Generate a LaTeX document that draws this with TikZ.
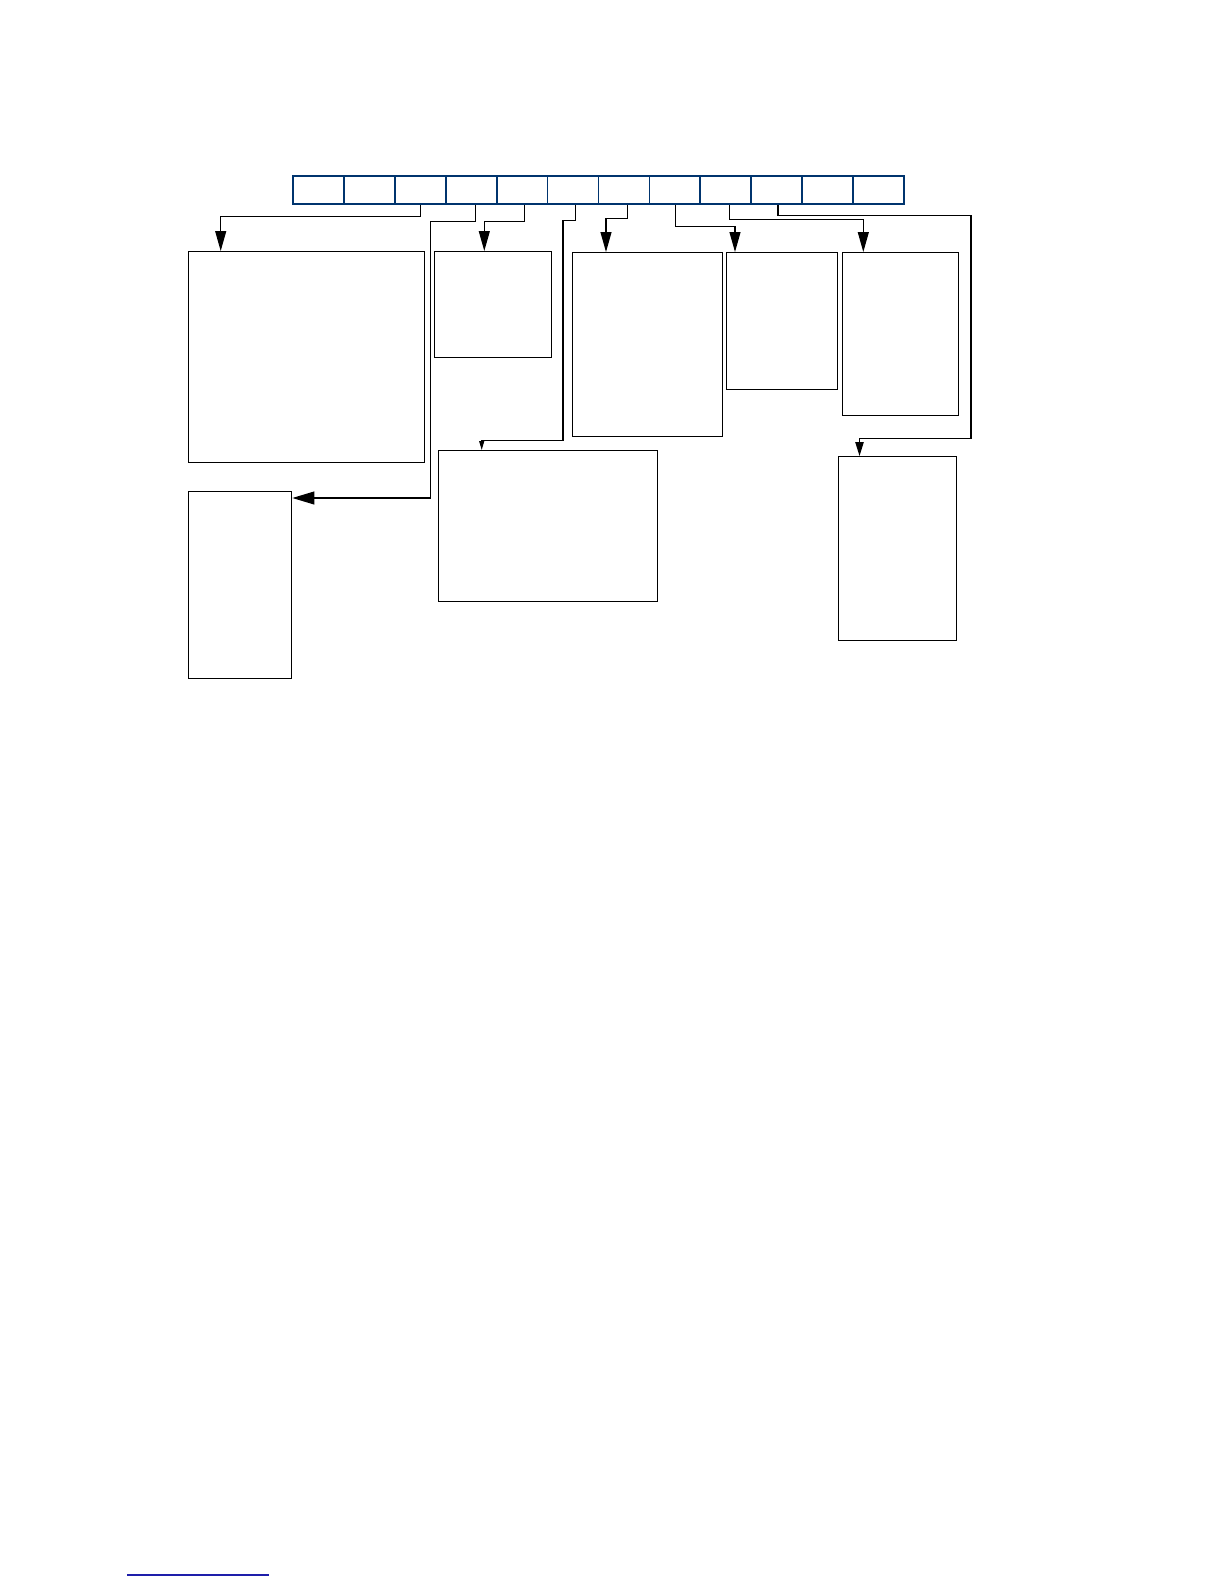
\documentclass[tikz,border=0pt]{standalone}
\usetikzlibrary{arrows.meta,calc}
\definecolor{barblue}{RGB}{0,52,110}
\definecolor{linkblue}{RGB}{30,30,170}
\begin{document}
\begin{tikzpicture}[x=0.5pt,y=-0.5pt,
  box/.style={draw=black,line width=0.7pt,inner sep=0pt,anchor=north west},
  cell/.style={draw=barblue,line width=0.9pt,inner sep=0pt,minimum width=25.46pt,minimum height=14pt},
  conn/.style={draw=black,line width=0.55pt},
  big/.style={-{Triangle[length=10pt,width=5.5pt]}},
  side/.style={-{Triangle[length=11pt,width=6.5pt]}},
  mid/.style={-{Triangle[length=7pt,width=4.2pt]}},
  tiny/.style={-{Triangle[length=4.5pt,width=2.5pt]}}]
\useasboundingbox (0,0) rectangle (1224,1584);

% register bar
\foreach \i in {1,...,12}
  \node[cell] (c\i) at ({293+50.917*(\i-0.5)},190) {};

% boxes
\node[box,minimum width=118pt,minimum height=105.5pt] (A) at (188,251) {};
\node[box,minimum width=58.5pt,minimum height=53pt]   (B) at (434,251) {};
\node[box,minimum width=75pt,minimum height=92pt]     (C) at (572,252) {};
\node[box,minimum width=55.5pt,minimum height=68.5pt] (D) at (726,252) {};
\node[box,minimum width=58pt,minimum height=81.5pt]   (E) at (842,252) {};
\node[box,minimum width=51.5pt,minimum height=93.5pt] (F) at (188,491) {};
\node[box,minimum width=109.5pt,minimum height=75.5pt] (G) at (438,450) {};
\node[box,minimum width=59pt,minimum height=92pt]     (H) at (838,456) {};

% connectors
\draw[conn,big] (c3.south) -- ++(0,12) -| ($(A.north west)+(32.7,0)$);
\draw[conn,side] ($(c4.south)+(4.5,0)$) -- ++(0,17) -| ($(F.north east)+(138.5,7)$) -- ($(F.north east)+(0,7)$);
\draw[conn,big] ($(c5.south)+(2.4,0)$) -- ++(0,16.7) -| ($(B.north west)+(50.3,0)$);
\draw[conn,tiny] ($(c6.south)+(2.7,0)$) -- ++(0,16) -| ($(G.north west)+(125,-9.5)$) -| ($(G.north west)+(43.7,0)$);
\draw[conn,big] ($(c7.south)+(3.7,0)$) -- ++(0,13.7) -| ($(C.north west)+(34,0)$);
\draw[conn,big] ($(c8.south)+(1,0)$) -- ++(0,22) -| ($(D.north west)+(9,0)$);
\draw[conn,big] ($(c9.south)+(3.3,0)$) -- ++(0,15) -| ($(E.north west)+(21.3,0)$);
\draw[conn,mid] ($(c10.south)+(1.3,0)$) -- ++(0,11) -| ($(H.north west)+(133,-17.7)$) -| ($(H.north west)+(21.5,0)$);

% footnote rule
\draw[linkblue,line width=0.6pt] (127,1575) -- (269,1575);
\end{tikzpicture}
\end{document}
